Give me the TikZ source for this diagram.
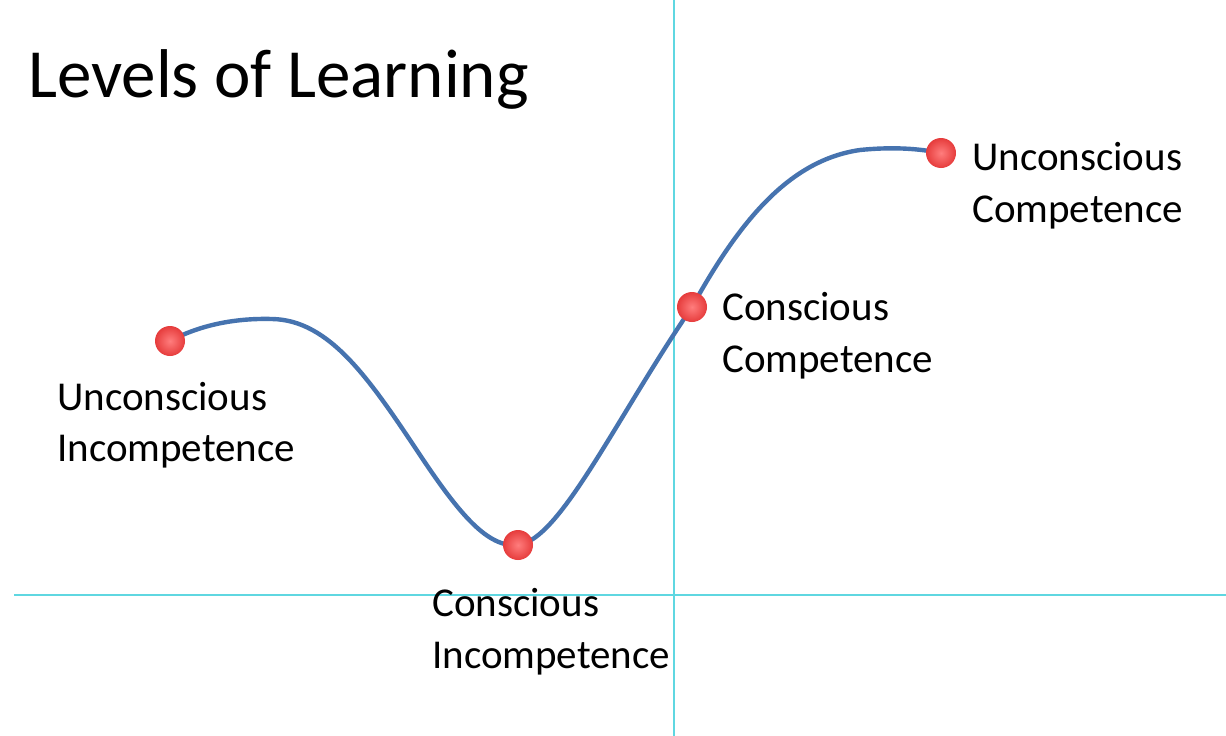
\documentclass[tikz,border=0pt]{standalone}
\usepackage{fontspec}
\setmainfont{Carlito}
\begin{document}
\begin{tikzpicture}[x=1pt,y=-1pt,
  guide/.style={draw=guidecyan, line width=1.8pt},
  curve/.style={draw=curveblue, line width=4.4pt, line cap=round},
  dot/.style={circle, minimum size=30pt, inner sep=0pt, draw=none,
     inner color=dotlight, outer color=dotdark},
  lbl/.style={anchor=base west, inner sep=0pt, font=\fontsize{41}{50}\selectfont, text=black},
  ttl/.style={anchor=base west, inner sep=0pt, font=\fontsize{69}{80}\selectfont, text=black}
]
\definecolor{guidecyan}{RGB}{95,215,225}
\definecolor{curveblue}{RGB}{70,115,175}
\definecolor{dotlight}{RGB}{255,125,125}
\definecolor{dotdark}{RGB}{230,60,60}
\useasboundingbox[fill=white] (0,0) rectangle (1226,736);

% guide lines
\coordinate (hl) at (14,595);
\coordinate (hr) at (1226,595);
\coordinate (vt) at (674,0);
\coordinate (vb) at (674,736);
\draw[guide] (hl) -- (hr);
\draw[guide] (vt) -- (vb);

% title
\node[ttl] (title) at (28,97) {Levels of Learning};

% dot positions
\coordinate (pA) at (170,341);
\coordinate (pB) at (518,545);
\coordinate (pC) at (692,307);
\coordinate (pD) at (941,153);

% curve
\draw[curve] (pA) .. controls (200,325) and (235,318) .. (272,319)
  .. controls (330,320) and (370,380) .. (420,455)
  .. controls (460,515) and (488,548) .. (pB)
  .. controls (560,540) and (615,420) .. (pC)
  .. controls (740,220) and (790,160) .. (860,150)
  .. controls (900,146) and (925,150) .. (pD);

% dots
\node[dot] (dA) at (pA) {};
\node[dot] (dB) at (pB) {};
\node[dot] (dC) at (pC) {};
\node[dot] (dD) at (pD) {};

% labels
\node[lbl] (uia) at (57,410) {Unconscious};
\node[lbl] (uib) at (57,461) {Incompetence};
\node[lbl] (cia) at (432,616) {Conscious};
\node[lbl] (cib) at (432,668) {Incompetence};
\node[lbl] (cca) at (722,320) {Conscious};
\node[lbl] (ccb) at (722,372) {Competence};
\node[lbl] (uca) at (972,170) {Unconscious};
\node[lbl] (ucb) at (972,222) {Competence};
\end{tikzpicture}
\end{document}
